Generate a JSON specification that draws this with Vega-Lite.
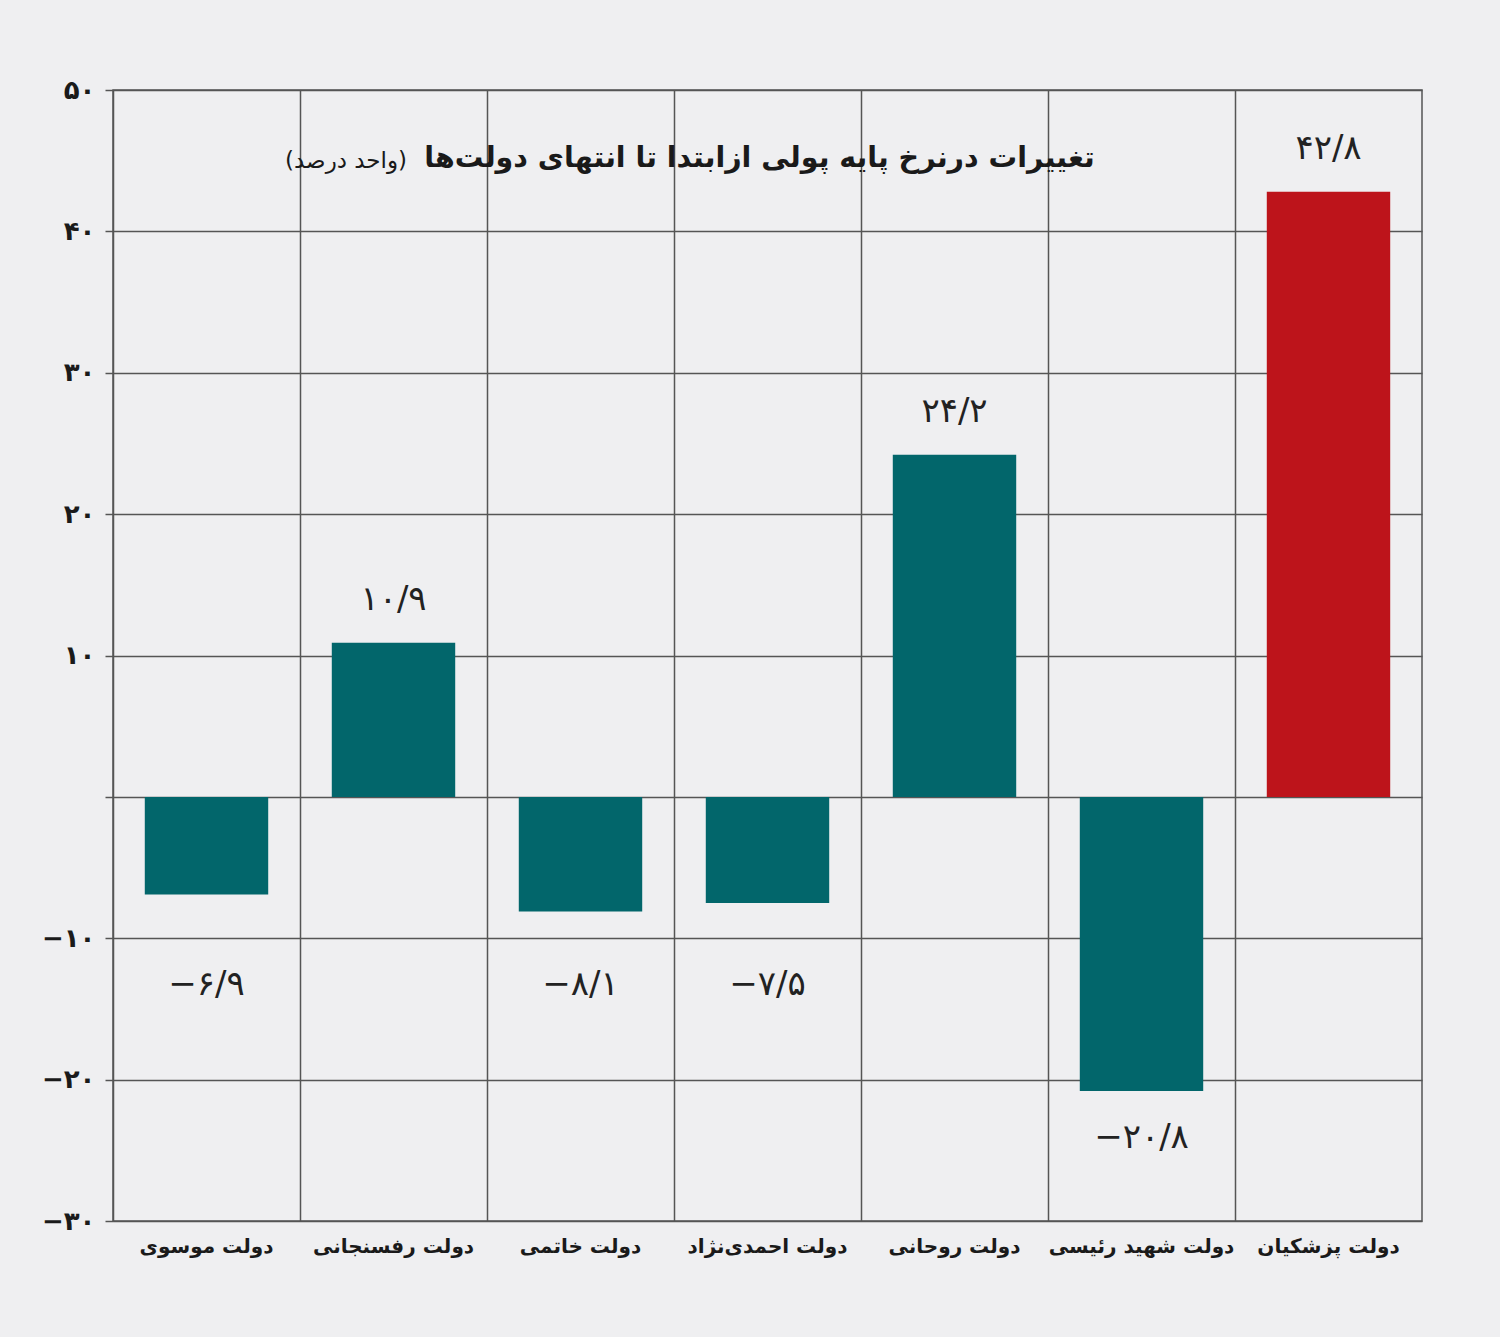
{
  "$schema": "https://vega.github.io/schema/vega-lite/v6.json",
  "width": 1309,
  "height": 1131,
  "autosize": "none",
  "padding": {"left": 113, "top": 90, "right": 78, "bottom": 116},
  "background": "#efeff1",
  "config": {
    "view": {"stroke": "#555555", "strokeWidth": 1.5},
    "font": "DejaVu Sans"
  },
  "data": {
    "values": [
      {"gov": "دولت موسوی", "value": -6.9, "label": "−۶/۹"},
      {"gov": "دولت رفسنجانی", "value": 10.9, "label": "۱۰/۹"},
      {"gov": "دولت خاتمی", "value": -8.1, "label": "−۸/۱"},
      {"gov": "دولت احمدی‌نژاد", "value": -7.5, "label": "−۷/۵"},
      {"gov": "دولت روحانی", "value": 24.2, "label": "۲۴/۲"},
      {"gov": "دولت شهید رئیسی", "value": -20.8, "label": "−۲۰/۸"},
      {"gov": "دولت پزشکیان", "value": 42.8, "label": "۴۲/۸"}
    ]
  },
  "encoding": {
    "x": {
      "field": "gov",
      "type": "nominal",
      "sort": null,
      "scale": {"paddingInner": 0, "paddingOuter": 0},
      "axis": {
        "title": null,
        "grid": true,
        "gridColor": "#555555",
        "gridWidth": 1.5,
        "bandPosition": 0,
        "ticks": false,
        "domain": false,
        "labelAngle": 0,
        "labelLimit": 400,
        "labelFont": "DejaVu Sans",
        "labelFontWeight": "bold",
        "labelFontSize": 20,
        "labelColor": "#1a1a1a",
        "labelPadding": 15
      }
    }
  },
  "layer": [
    {
      "mark": {"type": "bar", "width": {"band": 0.66}},
      "encoding": {
        "y": {
          "field": "value",
          "type": "quantitative",
          "scale": {"domain": [-30, 50], "nice": false},
          "axis": {
            "title": null,
            "values": [-30, -20, -10, 0, 10, 20, 30, 40, 50],
            "grid": true,
            "gridColor": "#555555",
            "gridWidth": 1.5,
            "domain": false,
            "tickColor": "#555555",
            "tickWidth": 1.5,
            "tickSize": 8,
            "labelFont": "DejaVu Sans",
            "labelFontWeight": "bold",
            "labelFontSize": 26,
            "labelColor": "#1a1a1a",
            "labelPadding": 10,
            "labelExpr": "datum.value == 0 ? '' : replace(replace(replace(replace(replace(replace(datum.label, regexp('0','g'), '۰'), regexp('1','g'), '۱'), regexp('2','g'), '۲'), regexp('3','g'), '۳'), regexp('4','g'), '۴'), regexp('5','g'), '۵')"
          }
        },
        "color": {
          "condition": {"test": "datum.gov == 'دولت پزشکیان'", "value": "#bd141b"},
          "value": "#02666b"
        }
      }
    },
    {
      "transform": [{"filter": "datum.value > 0"}],
      "mark": {"type": "text", "fontSize": 34, "color": "#222222", "dy": -43, "baseline": "middle"},
      "encoding": {
        "y": {"field": "value", "type": "quantitative"},
        "text": {"field": "label"}
      }
    },
    {
      "transform": [{"filter": "datum.value < -15"}],
      "mark": {"type": "text", "fontSize": 34, "color": "#222222", "dy": 47, "baseline": "middle"},
      "encoding": {
        "y": {"field": "value", "type": "quantitative"},
        "text": {"field": "label"}
      }
    },
    {
      "transform": [{"filter": "datum.value < 0 && datum.value > -15"}],
      "mark": {"type": "text", "fontSize": 34, "color": "#222222", "baseline": "middle"},
      "encoding": {
        "y": {"datum": -13.3},
        "text": {"field": "label"}
      }
    },
    {
      "data": {"values": [{"t": "تغییرات درنرخ پایه پولی ازابتدا تا انتهای دولت‌ها"}]},
      "mark": {"type": "text", "fontSize": 28.5, "fontWeight": "bold", "color": "#1a1a1a", "align": "right", "baseline": "middle"},
      "encoding": {
        "x": {"datum": "دولت شهید رئیسی", "bandPosition": 0.25},
        "y": {"datum": 45.2},
        "text": {"field": "t"}
      }
    },
    {
      "data": {"values": [{"t": "(واحد درصد)"}]},
      "mark": {"type": "text", "fontSize": 23, "color": "#1a1a1a", "align": "left", "baseline": "middle"},
      "encoding": {
        "x": {"datum": "دولت موسوی", "bandPosition": 0.92},
        "y": {"datum": 45.0},
        "text": {"field": "t"}
      }
    }
  ]
}
